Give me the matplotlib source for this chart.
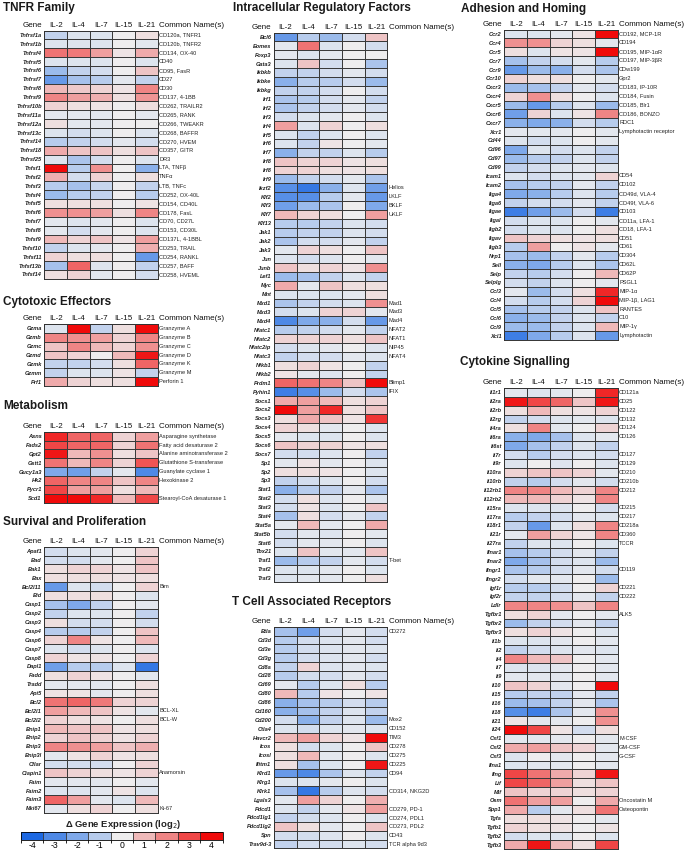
import numpy as np
import matplotlib
matplotlib.use("Agg")
import matplotlib.pyplot as plt
from matplotlib.colors import LinearSegmentedColormap, ListedColormap, BoundaryNorm
from matplotlib.cm import ScalarMappable

# Columns shared by every panel
cols = ["IL-2", "IL-4", "IL-7", "IL-15", "IL-21"]

# ---------------- TNFR Family ----------------
tnfr_genes = ["Tnfrsf1a", "Tnfrsf1b", "Tnfrsf4", "Tnfrsf5", "Tnfrsf6", "Tnfrsf7", "Tnfrsf8",
              "Tnfrsf9", "Tnfrsf10b", "Tnfrsf11a", "Tnfrsf12a", "Tnfrsf13c", "Tnfrsf14",
              "Tnfrsf18", "Tnfrsf25", "Tnfsf1", "Tnfsf2", "Tnfsf3", "Tnfsf4", "Tnfsf5",
              "Tnfsf6", "Tnfsf7", "Tnfsf8", "Tnfsf9", "Tnfsf10", "Tnfsf11", "Tnfsf13b", "Tnfsf14"]
tnfr_vals = [[-0.8, -0.3, -0.3, 0, 0.3], [-0.3, -0.3, -0.3, 0, -0.2], [2.3, 2.2, 1.5, 0.2, 1.3],
             [-0.3, -0.3, -0.3, 0, -0.3], [-1.5, -0.8, -0.5, 0, 0.8], [-2.5, -1.3, -1, -0.2, -0.8],
             [1, 0.7, 0.5, 0.2, 2], [2, 1.5, 1.2, 0.3, 1.7], [0.5, 0.3, 0.2, 0, 0.3],
             [-0.2, -0.2, -0.2, 0, -0.2], [0.3, -0.2, -0.2, 0, 0], [-0.3, -0.5, -0.3, 0, -0.3],
             [-1, -0.8, -0.5, -0.2, -0.5], [1.3, 0.8, 0.8, 0.3, 0.8], [-0.3, -1.2, -0.5, 0, -0.3],
             [4, -1, 1.8, 0, -1.8], [1.2, -0.5, 0.5, 0, 0.3], [-1, -1.3, -0.7, 0, -0.8],
             [-1.5, -1, -0.8, 0, -1], [0.3, 0.3, 0.3, 0, 0.2], [1.8, 1.8, 1.5, 0.3, 2],
             [-0.2, -0.3, -0.2, 0, -0.3], [-0.2, -0.5, -0.2, 0, -0.3], [1, 0.5, 0.8, 0.2, 1.5],
             [-0.8, -0.3, -0.2, 0, 1.2], [0.5, 0.3, 0.3, 0, -2.5], [-1.3, 2.5, -0.3, 0, -0.8],
             [0.3, 0.5, -0.2, 0, -0.5]]
tnfr_names = ["CD120a, TNFR1", "CD120b, TNFR2", "CD134, OX-40", "CD40", "CD95, FasR", "CD27",
              "CD30", "CD137, 4-1BB", "CD262, TRAILR2", "CD265, RANK", "CD266, TWEAKR",
              "CD268, BAFFR", "CD270, HVEM", "CD357, GITR", "DR3", "LTA, TNFβ", "TNFα",
              "LTB, TNFc", "CD252, OX-40L", "CD154, CD40L", "CD178, FasL", "CD70, CD27L",
              "CD153, CD30L", "CD137L, 4-1BBL", "CD253, TRAIL", "CD254, RANKL", "CD257, BAFF",
              "CD258, HVEML"]

# ---------------- Cytotoxic Effectors ----------------
cyto_genes = ["Gzma", "Gzmb", "Gzmc", "Gzmd", "Gzmk", "Gzmm", "Prf1"]
cyto_vals = [[-0.3, 4, -0.8, 0.3, 4], [2, 1.8, 1.5, 0.5, 2], [0.8, 2, 1, 0.5, 1.8],
             [0.8, 0.5, 0, 1, 3.8], [-0.8, -0.8, -0.5, 0.3, 2.5], [-0.8, -0.3, -0.3, 0.2, -0.8],
             [1.3, 0.5, 0.3, 0.3, 4]]
cyto_names = ["Granzyme A", "Granzyme B", "Granzyme C", "Granzyme D", "Granzyme K",
              "Granzyme M", "Perforin 1"]

# ---------------- Metabolism ----------------
meta_genes = ["Asns", "Fads2", "Gpt2", "Gstt1", "Gucy1a3", "Hk2", "Pycr1", "Scd1"]
meta_vals = [[3.5, 2.5, 2.5, 0.5, 1.5], [3, 2.5, 2.5, 0.5, 2.3], [3.8, 1, 1.8, 0.3, 0.8],
             [2.3, 1, 2, 0.5, 2.8], [-2, -2.3, -0.8, -0.2, -3], [2.5, 2, 2, 0.8, 2],
             [3, 1.5, 1.5, 0.3, 1], [4, 4, 3.5, 1, 3]]
meta_names = ["Asparagine synthetase", "Fatty acid desaturase 2", "Alanine aminotransferase 2",
              "Glutathione S-transferase", "Guanylate cyclase 1", "Hexokinase 2", "",
              "Stearoyl-CoA desaturase 1"]

# ---------------- Survival and Proliferation ----------------
surv_genes = ["Apaf1", "Bad", "Bak1", "Bax", "Bcl2l11", "Bid", "Casp1", "Casp2", "Casp3",
              "Casp4", "Casp6", "Casp7", "Casp8", "Dapl1", "Fadd", "Tradd", "Api5", "Bcl2",
              "Bcl2l1", "Bcl2l2", "Bnip1", "Bnip2", "Bnip3", "Bnip3l", "Cflar", "Ciapin1",
              "Faim", "Faim2", "Faim3", "Mki67"]
surv_vals = [[-0.5, -0.3, -0.2, 0, 0.5], [-0.5, -0.5, -0.2, 0, 0.8], [0.3, 0.5, 0.5, 0.2, 0.8],
             [0.3, 0.3, 0.3, 0.2, 0.3], [-2.5, -0.3, -0.5, 0, 0.5], [0.3, 0.3, 0.3, 0, -0.3],
             [-1.3, -2, -0.8, 0, -0.2], [-0.8, -0.3, -0.3, 0, -0.8], [0.3, -0.5, -0.5, 0, -0.5],
             [-1, -1, -0.8, 0, 0.8], [0.5, 2, 0.2, 0, 1], [-0.3, -0.5, -0.3, 0, -0.3],
             [0.5, 0.2, 0.2, 0, 0.5], [-2.3, -1, -1, -0.3, -3.5], [0.3, 0.5, 0.2, 0, -0.2],
             [-0.2, -0.2, -0.2, 0, 0.3], [0.2, 0.2, -0.2, 0, 0.3], [2.3, 2.5, 2.2, 0.5, 0.5],
             [1.5, 1, 0.8, 0.2, -0.2], [0.5, 0.3, 0.2, 0, 0.3], [1, 0.8, 0.8, 0.2, 0.3],
             [0.5, 0.8, 0.5, 0.2, 0.5], [2, 1.8, 1.5, 0.8, 1.2], [-0.2, 0.2, 0.5, 0.2, 0.3],
             [-0.5, -0.5, -0.5, 0, 0.5], [0.8, 0.5, 0.3, 0.2, 0.5], [-0.2, -0.2, -0.2, 0, -0.2],
             [-0.3, -0.3, -0.2, 0.2, -0.3], [2.5, 1.5, -0.2, -0.3, 1], [-0.2, 0.3, 0.5, 0, 0.3]]
surv_names = ["", "", "", "", "Bim", "", "", "", "", "", "", "", "", "", "", "", "", "",
              "BCL-XL", "BCL-W", "", "", "", "", "", "Anamorsin", "", "", "", "Ki-67"]

# ---------------- Intracellular Regulatory Factors ----------------
intra_genes = ["Bcl6", "Eomes", "Foxp3", "Gata3", "Ikbkb", "Ikbke", "Ikbkg", "Irf1", "Irf2",
               "Irf3", "Irf4", "Irf5", "Irf6", "Irf7", "Irf8", "Irf8", "Irf9", "Ikzf2", "Klf2",
               "Klf3", "Klf7", "Klf13", "Jak1", "Jak2", "Jak3", "Jun", "Junb", "Lef1", "Myc",
               "Mnt", "Mxd1", "Mxd3", "Mxd4", "Nfatc1", "Nfatc2", "Nfatc2ip", "Nfatc3", "Nfkb1",
               "Nfkb2", "Prdm1", "Pyhin1", "Socs1", "Socs2", "Socs3", "Socs4", "Socs5", "Socs6",
               "Socs7", "Sp1", "Sp2", "Sp3", "Stat1", "Stat2", "Stat3", "Stat4", "Stat5a",
               "Stat5b", "Stat6", "Tbx21", "Traf1", "Traf2", "Traf3"]
intra_vals = [[-2.5, -1, -1.5, -0.5, 0.8], [-0.2, 2.3, -0.3, 0, -0.5], [-0.2, -0.3, -0.2, 0, 0],
              [-0.3, 0.8, -0.5, 0, -1.2], [-0.8, -0.8, -0.5, -0.2, -0.5], [-1.8, -1, -1, -0.5, -1.5],
              [-0.8, -0.8, -0.5, 0, -0.5], [-1.2, -1, -0.5, -0.2, -0.8], [-1.2, -0.8, -0.5, -0.2, -0.5],
              [-0.5, -0.3, -0.2, 0, -0.3], [1.5, -0.3, 0.5, 0, 0.3], [-0.3, -0.8, -0.3, 0, -0.3],
              [-0.3, -0.8, 0.2, 0, -0.2], [-1.8, -0.8, -0.8, -0.3, -1], [0.8, 0.5, 0.5, 0.2, 0.3],
              [0.5, 0.5, 0.3, 0.2, 0.3], [-1.5, -0.8, -0.5, -0.2, -1.2], [-2.8, -3.5, -1.8, -0.3, -2.3],
              [-2.8, -2.8, -1, -0.2, -2.5], [-2.3, -1.5, -1.2, 0, -2], [1, 0.5, 0.3, 0, 1.5],
              [-1, -1, -0.8, -0.3, -0.5], [-1, -0.8, -0.8, -0.3, -0.5], [-1.2, -0.5, -0.5, -0.2, -0.8],
              [-0.2, 0.5, 0.3, 0, 0.8], [-0.3, -0.5, -0.3, 0, -0.2], [0.8, 0.3, 0.5, 0.2, 1.8],
              [-1.5, -1.3, -0.8, -0.3, -0.8], [1.3, -0.2, 0.8, 0.3, 0.3], [-0.3, -0.3, -0.3, -0.2, 0.3],
              [-1.2, -0.8, -0.5, -0.3, 1.8], [-0.5, -0.3, 0.5, 0.5, -0.2], [-3, -2, -1.8, -0.5, -2.5],
              [-1, -0.8, -0.5, -0.2, -0.8], [0.5, 0.5, 0.5, 0.3, 0.8], [-0.5, -0.3, -0.2, 0, -0.3],
              [-0.8, -0.5, -0.5, -0.2, -0.3], [0.3, 0.5, 0.2, 0, -0.8], [0.2, -0.2, -0.3, 0, -0.8],
              [2.5, 2.3, 2, 0.8, 4], [-3.3, -2.8, -1.5, -0.5, -1.2], [1.3, 1.5, 1, 0.3, 0.5],
              [4, 1.5, 3.5, 0.3, 0.8], [0.3, 1.3, 0.8, 0.2, 3.3], [0.5, 0.3, -0.2, 0, -0.3],
              [-0.2, -0.3, -0.3, 0, -0.3], [0.8, 0.5, 0.5, 0.2, 0.3], [-0.5, -0.5, -0.3, 0, -0.8],
              [-0.2, 0.2, -0.2, 0, -0.3], [0.3, 0.3, 0.2, 0, -0.3], [-0.8, -0.5, -0.3, 0, -0.5],
              [-1.8, -1, -0.8, -0.2, -1.2], [-0.5, 0.3, -0.3, 0, -0.3], [-0.5, 0.2, -0.3, 0, 0.8],
              [-1.3, 0.3, -0.5, -0.2, -0.8], [-0.2, 1, -0.2, 0, 1.3], [-0.5, -0.2, -0.3, 0, -0.2],
              [-0.5, -0.2, -0.2, 0, -0.3], [-0.3, 0.8, -0.2, -0.2, 0.8], [-1.5, -1, -0.8, -0.2, -0.5],
              [-0.3, -0.3, -0.2, 0, -0.3], [-0.3, -0.2, -0.2, 0, 0.3]]
intra_names = [""] * 17 + ["Helios", "LKLF", "BKLF", "UKLF"] + [""] * 9 + \
              ["Mad1", "Mad3", "Mad4", "NFAT2", "NFAT1", "NIP45", "NFAT4", "", "",
               "Blimp1", "IFIX"] + [""] * 18 + ["T-bet", "", "", ""]

# ---------------- T Cell Associated Receptors ----------------
tcell_genes = ["Btla", "Cd3d", "Cd3e", "Cd3g", "Cd8a", "Cd28", "Cd69", "Cd80", "Cd86", "Cd160",
               "Cd200", "Ctla4", "Havcr2", "Icos", "Icosl", "Ifitm1", "Klrd1", "Klrg1", "Klrk1",
               "Lgals3", "Pdcd1", "Pdcd1lg1", "Pdcd1lg2", "Spn", "Trav9d-3"]
tcell_vals = [[-1.3, -2.3, -0.5, -0.2, -0.5], [-1, -0.5, -0.3, -0.2, -0.5], [-1, -0.5, -0.3, -0.2, -0.3],
              [-1, -0.5, -0.3, -0.2, -0.5], [-0.8, 0.5, -0.3, -0.2, -0.3], [-1, -0.5, -0.5, -0.2, -0.5],
              [-0.2, -1, -0.3, 0.3, -1], [1, -1, 0.2, 0, 0.2], [-1.8, -1.3, -1, -0.5, -1],
              [-1.8, -1.3, -0.8, -0.3, -0.8], [-0.5, -1.8, -0.8, -0.3, -1.5], [-0.3, -0.5, -0.3, -0.2, -0.3],
              [1, 1.5, 0.5, 0.2, 4], [0.3, -0.5, -0.3, 0, 0.8], [0.3, 1, -0.2, 0, -0.3],
              [0.3, -1.3, -0.3, 0, 3.8], [-2.5, -3, -1.2, -0.3, -0.8], [-0.3, -0.3, -0.2, 0, -0.3],
              [-1.3, -3.5, -1, -0.3, -0.5], [-0.2, 1.5, 0.5, 0, 1.2], [-0.3, -0.8, -0.2, 0.2, 1.5],
              [-0.8, -0.5, -0.3, 0, -0.3], [0.8, 0.3, -0.2, 0, 0.8], [-0.5, -0.5, -0.3, 0, -0.3],
              [-0.8, -0.5, -0.5, -0.3, -0.5]]
tcell_names = ["CD272", "", "", "", "", "", "", "", "", "", "Mox2", "CD152", "TIM3", "CD278",
               "CD275", "CD225", "CD94", "", "CD314, NKG2D", "", "CD279, PD-1", "CD274, PDL1",
               "CD273, PDL2", "CD43", "TCR alpha 9d3"]

# ---------------- Adhesion and Homing ----------------
adh_genes = ["Ccr2", "Ccr4", "Ccr5", "Ccr7", "Ccr9", "Ccr10", "Cxcr3", "Cxcr4", "Cxcr5", "Cxcr6",
             "Cxcr7", "Xcr1", "Cd44", "Cd96", "Cd97", "Cd99", "Icam1", "Icam2", "Itga4", "Itga6",
             "Itgae", "Itgal", "Itgb2", "Itgav", "Itgb3", "Nrp1", "Sell", "Selp", "Selplg",
             "Ccl3", "Ccl4", "Ccl5", "Ccl6", "Ccl9", "Xcl1"]
adh_vals = [[-0.3, -0.3, -0.2, 0.2, 4], [1.8, 1.8, 0.5, 0.3, -0.2], [0.3, -0.3, 0.2, 0.2, 4],
            [-1.3, -0.8, -0.5, -0.2, -1], [-2.5, -1.5, -1.8, -0.5, -1.2], [0.5, 0.3, 0.3, 0, -0.2],
            [-1.5, -1.3, -0.8, -0.2, -0.5], [0.5, 1.8, 0.3, 0, -0.3], [-1.5, -2.5, -1, -0.3, -1.5],
            [-2.3, 0.5, -0.3, 0.2, 2], [-1.8, -2, -1.8, -0.5, -1], [-0.2, -0.2, -0.2, 0, -0.2],
            [-0.3, -0.5, -0.3, 0, -0.2], [-2, -0.3, -0.5, -0.3, -0.8], [-1.5, -1, -0.8, -0.3, -0.8],
            [-0.8, -0.5, -0.3, -0.2, -0.3], [-0.3, -0.5, -0.3, -0.2, 0.5], [-1.3, -1, -0.8, -0.2, -0.8],
            [-2, -1.8, -1, -0.3, -1], [-0.8, -0.5, -0.5, -0.2, -0.8], [-3.3, -2.3, -1.5, -0.5, -3.3],
            [-0.5, -0.3, -0.3, 0, -0.2], [-0.5, -0.3, -0.3, 0, 0.3], [0.8, 0.5, 0.3, 0.2, 0.3],
            [-1, 1.5, 0, 0.2, -0.2], [-1.3, -1.5, -0.8, -0.2, -1], [-1.8, -2, -1, -0.3, -1.2],
            [-0.8, -1, -0.5, 0, 1], [-0.5, -0.8, -0.3, 0, -0.2], [-0.2, -1.5, -0.5, 0.3, 3.5],
            [-0.5, -1, -0.5, 0.5, 4], [-1.3, -1, -0.8, -0.3, 0.8], [-1.8, -1.5, -0.8, -0.3, -0.8],
            [-1.5, -1.5, -0.8, -0.3, 1], [-3.3, -2, -1, -0.3, -2.5]]
adh_names = ["CD192, MCP-1R", "CD194", "CD195, MIP-1αR", "CD197, MIP-3βR", "CDw199", "Gpr2",
             "CD183, IP-10R", "CD184, Fusin", "CD185, Blr1", "CD186, BONZO", "RDC1",
             "Lymphotactin receptor", "", "", "", "", "CD54", "CD102", "CD49d, VLA-4",
             "CD49f, VLA-6", "CD103", "CD11a, LFA-1", "CD18, LFA-1", "CD51", "CD61", "CD304",
             "CD62L", "CD62P", "PSGL1", "MIP-1α", "MIP-1β, LAG1", "RANTES", "C10", "MIP-1γ",
             "Lymphotactin"]

# ---------------- Cytokine Signalling ----------------
cytk_genes = ["Il1r1", "Il2ra", "Il2rb", "Il2rg", "Il4ra", "Il6ra", "Il6st", "Il7r", "Il9r",
              "Il10ra", "Il10rb", "Il12rb1", "Il12rb2", "Il15ra", "Il17ra", "Il18r1", "Il21r",
              "Il27ra", "Ifnar1", "Ifnar2", "Ifngr1", "Ifngr2", "Igf1r", "Igf2r", "Ldlr",
              "Tgfbr1", "Tgfbr2", "Tgfbr3", "Il1b", "Il2", "Il4", "Il7", "Il9", "Il10", "Il15",
              "Il16", "Il18", "Il21", "Il24", "Csf1", "Csf2", "Csf3", "Ifna1", "Ifng", "Lif",
              "Mif", "Osm", "Spp1", "Tgfa", "Tgfb1", "Tgfb2", "Tgfb3"]
cytk_vals = [[-0.2, -0.3, -0.2, 0, 3.5], [3.8, 3, 2.5, 0.8, 3.8], [0.3, 1, 0.3, 0.2, 0.5],
             [-0.8, -0.5, -0.3, -0.2, -0.3], [0.3, 2, -0.2, 0, 0.5], [-1.8, -2, -1.3, -0.3, -0.2],
             [-2, -1.3, -0.8, -0.3, -0.8], [-0.5, -1, -0.5, -0.3, -0.5], [-0.3, 0, -0.3, 0, -0.3],
             [0.5, 0.8, 0.8, 0.5, -0.2], [-0.8, -1, -0.5, -0.2, -0.5], [2, 2, 1, 0.5, 2],
             [1, 1, 0.5, 0.2, 2], [-0.3, -0.3, -0.3, 0, -0.5], [-1, -0.8, -0.5, -0.2, -0.3],
             [-0.8, -2.5, -0.3, 0.3, 2], [-0.2, 1.5, 0.5, 0.2, 2], [-0.8, -0.3, -0.3, 0, -0.3],
             [-1.3, -1, -0.5, -0.2, -0.8], [-2, -1.3, -0.5, -0.3, -1.5], [-1.2, -1, -0.5, -0.2, -0.5],
             [-0.5, -0.2, -0.2, 0, -1.5], [-1, -1, -0.5, 0, 0.5], [-0.8, -0.8, -0.5, -0.2, -0.8],
             [2, 2, 1.8, 0.8, 2], [0.3, 0.5, -0.2, 0, -0.2], [-1.5, -0.8, -0.5, -0.2, -0.8],
             [0.3, 0.5, 0.2, 0, -0.3], [-0.3, -0.3, -0.2, 0, -0.2], [-0.8, -0.5, -0.3, -0.2, -0.3],
             [2, 1, 0.8, 0, -0.2], [-0.3, -0.3, -0.2, 0, -0.2], [-0.2, -0.2, -0.2, 0, -0.2],
             [0.8, 0.5, -0.2, 0, 4], [-1, -0.8, -0.8, -0.2, -0.8], [-1.5, -1.3, -0.8, -0.2, -1.2],
             [-2.8, -3.3, -1.2, -0.2, 1.8], [0.2, -0.2, -0.2, 0, 1.8], [4, 3, 0.2, -0.5, 0.3],
             [-0.2, -0.2, -0.2, 0, -0.2], [1.3, 1.5, 0.8, 0.5, -0.2], [-0.3, 0, -0.2, 0, -0.2],
             [-0.3, -0.2, -0.2, 0, -0.2], [3, 2.3, 1.3, 0.5, 3.8], [3, 2.5, 1.5, 0.3, 0.8],
             [0.8, 0.5, 0.5, 0.3, 0.5], [2.3, 1.5, 1.5, 0, 1.3], [1.3, -1, -0.2, 0.3, 2.3],
             [0.3, 0.3, 0.2, 0, -0.2], [0.5, 0.3, 0.2, 0, 0.2], [-0.5, -0.3, -0.3, 0, -0.3],
             [1.3, 3.8, 1, 0.3, 3]]
cytk_names = ["CD121a", "CD25", "CD122", "CD132", "CD124", "CD126", "", "CD127", "CD129",
              "CD210", "CD210b", "CD212", "", "CD215", "CD217", "CD218a", "CD360", "TCCR", "",
              "", "CD119", "", "CD221", "CD222", "", "ALK5"] + [""] * 13 + \
             ["M-CSF", "GM-CSF", "G-CSF", "", "", "", "", "Oncostatin M", "Osteopontin",
              "", "", "", ""]

# colour scale
cmap = LinearSegmentedColormap.from_list(
    "bwr_expr", [(0.0, "#1c68e2"), (0.25, "#7fa9ea"), (0.5, "#eeeeef"),
                 (0.75, "#ef8686"), (1.0, "#f00a0a")])

W, H = 685, 851
fig = plt.figure(figsize=(W / 100, H / 100), dpi=100)
plt.rcParams['font.family'] = ['Liberation Sans', 'DejaVu Sans']
plt.rcParams['axes.unicode_minus'] = False

ROW = 8.87
HM_W = 113.3
HEAD_FS = 5.8
LAB_FS = 4.1


def px_axes(x0, y0, x1, y1):
    return fig.add_axes([x0 / W, 1 - y1 / H, (x1 - x0) / W, (y1 - y0) / H])


def draw_panel(title, genes, vals, names, x0, top, tx, ty):
    n = len(genes)
    ax = px_axes(x0, top, x0 + HM_W, top + n * ROW)
    ax.pcolormesh(np.array(vals), cmap=cmap, vmin=-4, vmax=4,
                  edgecolors='#3a3a3a', linewidth=0.45)
    ax.set_xlim(0, 5)
    ax.set_ylim(n, 0)
    ax.set_xticks([])
    ax.set_yticks(np.arange(n) + 0.5, genes, fontsize=LAB_FS, style='italic',
                  weight='bold', color='#222222')
    ax.tick_params(length=0, pad=1.8)
    for s in ax.spines.values():
        s.set_linewidth(0.7)
        s.set_color('#333333')
    trans = ax.get_yaxis_transform()
    for i, nm in enumerate(names):
        if nm:
            ax.text(1.014, i + 0.5, nm, transform=trans, va='center', ha='left',
                    fontsize=LAB_FS, color='#222222')
    # header row
    hy = -0.62
    ax.text(-0.02, hy, "Gene", transform=trans, ha='right', va='center', fontsize=HEAD_FS,
            color='#111111')
    for j, c in enumerate(cols):
        ax.text(j + 0.5, hy, c, ha='center', va='center', fontsize=HEAD_FS, color='#111111')
    ax.text(1.014, hy, "Common Name(s)", transform=trans, ha='left', va='center',
            fontsize=HEAD_FS, color='#111111')
    fig.text(tx / W, 1 - ty / H, title, fontsize=8.5, weight='bold',
             ha='left', va='center', color='#1a1a1a')
    return ax


draw_panel("TNFR Family", tnfr_genes, tnfr_vals, tnfr_names, 44.3, 30.5, 3, 8.5)
draw_panel("Cytotoxic Effectors", cyto_genes, cyto_vals, cyto_names, 44.3, 324, 3, 301.5)
draw_panel("Metabolism", meta_genes, meta_vals, meta_names, 44.3, 431.7, 3, 406)
draw_panel("Survival and Proliferation", surv_genes, surv_vals, surv_names, 44.3, 546.7, 3, 521.7)
draw_panel("Intracellular Regulatory Factors", intra_genes, intra_vals, intra_names,
           274, 32.5, 233, 8.5)
draw_panel("T Cell Associated Receptors", tcell_genes, tcell_vals, tcell_names,
           274, 626.7, 232, 601.7)
draw_panel("Adhesion and Homing", adh_genes, adh_vals, adh_names, 504.3, 29.6, 461, 9)
draw_panel("Cytokine Signalling", cytk_genes, cytk_vals, cytk_names, 504.3, 388, 460, 361.7)

# discrete legend bar
levels = np.arange(-4, 5)
cax = px_axes(21, 831.7, 222.7, 840)
disc = ListedColormap(cmap((levels + 4) / 8.0))
norm = BoundaryNorm(np.arange(-4.5, 5.5, 1), disc.N)
cb = fig.colorbar(ScalarMappable(norm=norm, cmap=disc), cax=cax, orientation='horizontal',
                  ticks=levels, drawedges=True)
cb.outline.set_linewidth(0.6)
cb.dividers.set_linewidth(0.6)
cb.dividers.set_color('#333333')
cax.tick_params(length=0, labelsize=6.2, pad=1)
fig.text(123 / W, 1 - 824.5 / H, r"Δ Gene Expression (log$_2$)", fontsize=6.8, weight='bold',
         ha='center', va='center', color='#222222')

fig.savefig("out.png", dpi=100)
